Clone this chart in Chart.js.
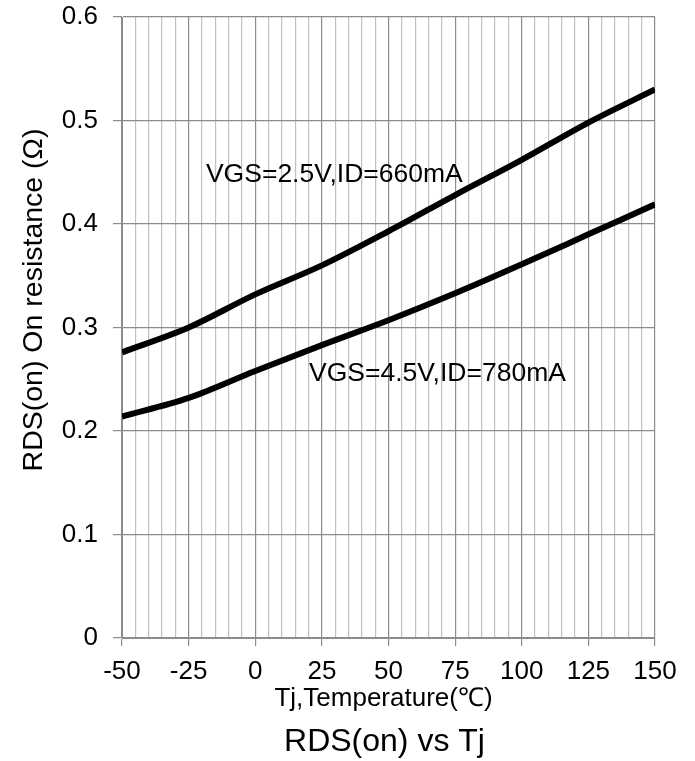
<!DOCTYPE html>
<html lang="en">
  <head>
    <meta charset="UTF-8" />
    <title>RDS(on) vs Tj</title>
    <style>
      body { margin: 0; background: #fff; }
    </style>
  </head>
  <body>
    <canvas id="myChart" width="695" height="761"></canvas>

    <script src="https://cdn.jsdelivr.net/npm/chart.js"></script>
    <script>
      // temperature points (°C)
      const temps = [-50, -25, 0, 25, 50, 75, 100, 125, 150];
      // VGS=2.5V, ID=660mA
      const rds25 = [0.276, 0.300, 0.332, 0.360, 0.393, 0.428, 0.462, 0.498, 0.530];
      // VGS=4.5V, ID=780mA
      const rds45 = [0.214, 0.232, 0.258, 0.283, 0.307, 0.333, 0.361, 0.390, 0.419];

      const xMin = -50, xMax = 150;
      const yMin = 0, yMax = 0.6;

      // curve labels, anchored in data units (left end of text, baseline)
      const labelText = ["VGS=2.5V,ID=660mA", "VGS=4.5V,ID=780mA"];
      const labelX = [-18.5, 20.2];
      const labelY = [0.441, 0.2485];

      const FONT = '"Liberation Sans", Arial, sans-serif';
      const majorGrid = "#8c8c8c";
      const minorGrid = "#c0c0c0";

      const toXY = (ys) => temps.map((t, i) => ({ x: t, y: ys[i] }));

      const textPlugin = {
        id: "texts",
        afterDraw(chart) {
          const c = chart.ctx;
          const xs = chart.scales.x;
          const ys = chart.scales.y;
          const area = chart.chartArea;
          c.save();
          c.fillStyle = "#000";

          c.font = "26.5px " + FONT;
          c.textAlign = "left";
          c.textBaseline = "alphabetic";
          for (let i = 0; i < labelText.length; i++) {
            c.fillText(labelText[i], xs.getPixelForValue(labelX[i]), ys.getPixelForValue(labelY[i]));
          }

          const cx = (area.left + area.right) / 2;
          c.textAlign = "center";
          c.font = "26px " + FONT;
          c.fillText("Tj,Temperature(℃)", cx - 5, 706);
          c.font = "32px " + FONT;
          c.fillText("RDS(on) vs Tj", cx - 4, 751);

          // y axis title
          c.translate(42, 300);
          c.rotate(-Math.PI / 2);
          c.font = "28.5px " + FONT;
          c.fillText("RDS(on) On resistance (Ω)", 0, 0);
          c.restore();
        },
      };

      new Chart(document.getElementById("myChart"), {
        type: "line",
        data: {
          datasets: [
            {
              label: labelText[0],
              data: toXY(rds25),
              borderColor: "#000",
              borderWidth: 6,
              pointRadius: 0,
              cubicInterpolationMode: "monotone",
              fill: false,
            },
            {
              label: labelText[1],
              data: toXY(rds45),
              borderColor: "#000",
              borderWidth: 6,
              pointRadius: 0,
              cubicInterpolationMode: "monotone",
              fill: false,
            },
          ],
        },
        options: {
          responsive: false,
          animation: false,
          layout: { padding: { top: 17, right: 40, left: 0, bottom: 0 } },
          plugins: {
            legend: { display: false },
            tooltip: { enabled: false },
          },
          scales: {
            x: {
              type: "linear",
              min: xMin,
              max: xMax,
              afterFit: (s) => {
                s.height = 123;
                s.paddingLeft = 0;
                s.paddingRight = 0;
              },
              border: { color: majorGrid, width: 1 },
              grid: {
                color: (ctx) => (ctx.tick && ctx.tick.value % 25 === 0 ? majorGrid : minorGrid),
                tickColor: (ctx) => (ctx.tick && ctx.tick.value % 25 === 0 ? majorGrid : "rgba(0,0,0,0)"),
                lineWidth: 1.2,
                tickLength: 8,
              },
              ticks: {
                stepSize: 5,
                maxTicksLimit: 100,
                autoSkip: false,
                maxRotation: 0,
                padding: 10,
                color: "#000",
                font: { family: FONT, size: 26 },
                callback: (v) => (v % 25 === 0 ? String(v) : ""),
              },
            },
            y: {
              min: yMin,
              max: yMax,
              afterFit: (s) => {
                s.width = 122;
                s.paddingTop = 0;
                s.paddingBottom = 0;
              },
              border: { color: majorGrid, width: 1 },
              grid: {
                color: majorGrid,
                lineWidth: 1.2,
                tickLength: 9,
              },
              ticks: {
                stepSize: 0.1,
                padding: 15,
                color: "#000",
                font: { family: FONT, size: 26 },
              },
            },
          },
        },
        plugins: [textPlugin],
      });
    </script>
  </body>
</html>
